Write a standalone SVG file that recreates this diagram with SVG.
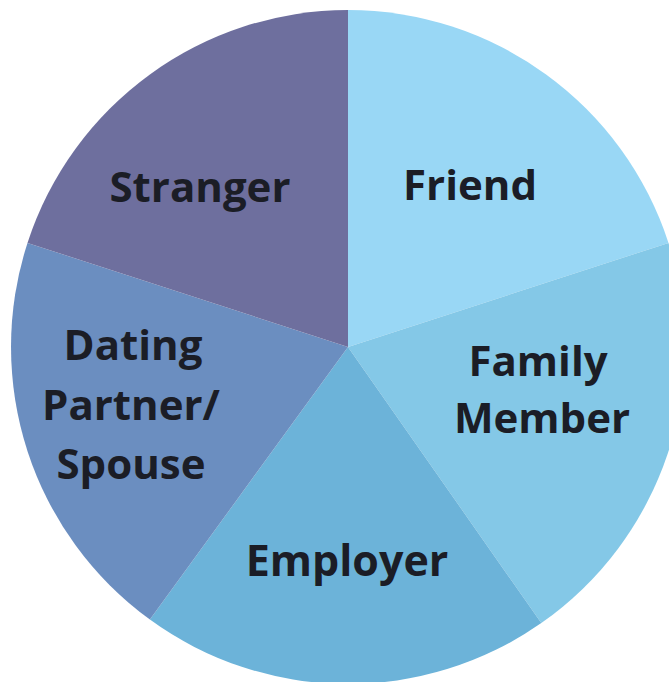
<svg xmlns="http://www.w3.org/2000/svg" width="669" height="682" viewBox="0 0 669 682">
  <style>
    .lbl { font-family: "Open Sans", "Noto Sans", "Liberation Sans", sans-serif; font-weight: 700; font-size: 42px; fill: #1b1d26; text-anchor: middle; }
  </style>
  <rect width="669" height="682" fill="#ffffff"/>
  <g id="slices">
    <g id="friend">
      <path d="M348,347 L348,10 A337,337 0 0 1 668.5,242.9 Z" fill="#99d7f5"/>
      <text class="lbl" x="470" y="200">Friend</text>
    </g>
    <g id="family-member">
      <path d="M348,347 L668.5,242.9 A337,337 0 0 1 541.3,623.1 Z" fill="#84c8e7"/>
      <text class="lbl" x="538" y="376">Family</text>
      <text class="lbl" x="542" y="433">Member</text>
    </g>
    <g id="employer">
      <path d="M348,347 L541.3,623.1 A337,337 0 0 1 149.9,619.6 Z" fill="#6cb3d9"/>
      <text class="lbl" x="347" y="576" style="font-size:43px">Employer</text>
    </g>
    <g id="dating-partner">
      <path d="M348,347 L149.9,619.6 A337,337 0 0 1 27.5,242.9 Z" fill="#6b8ec0"/>
      <text class="lbl" x="133" y="360">Dating</text>
      <text class="lbl" x="131" y="420">Partner/</text>
      <text class="lbl" x="131" y="479">Spouse</text>
    </g>
    <g id="stranger">
      <path d="M348,347 L27.5,242.9 A337,337 0 0 1 348,10 Z" fill="#6e6f9e"/>
      <text class="lbl" x="200" y="202">Stranger</text>
    </g>
  </g>
  <g id="connectors"/>
</svg>
